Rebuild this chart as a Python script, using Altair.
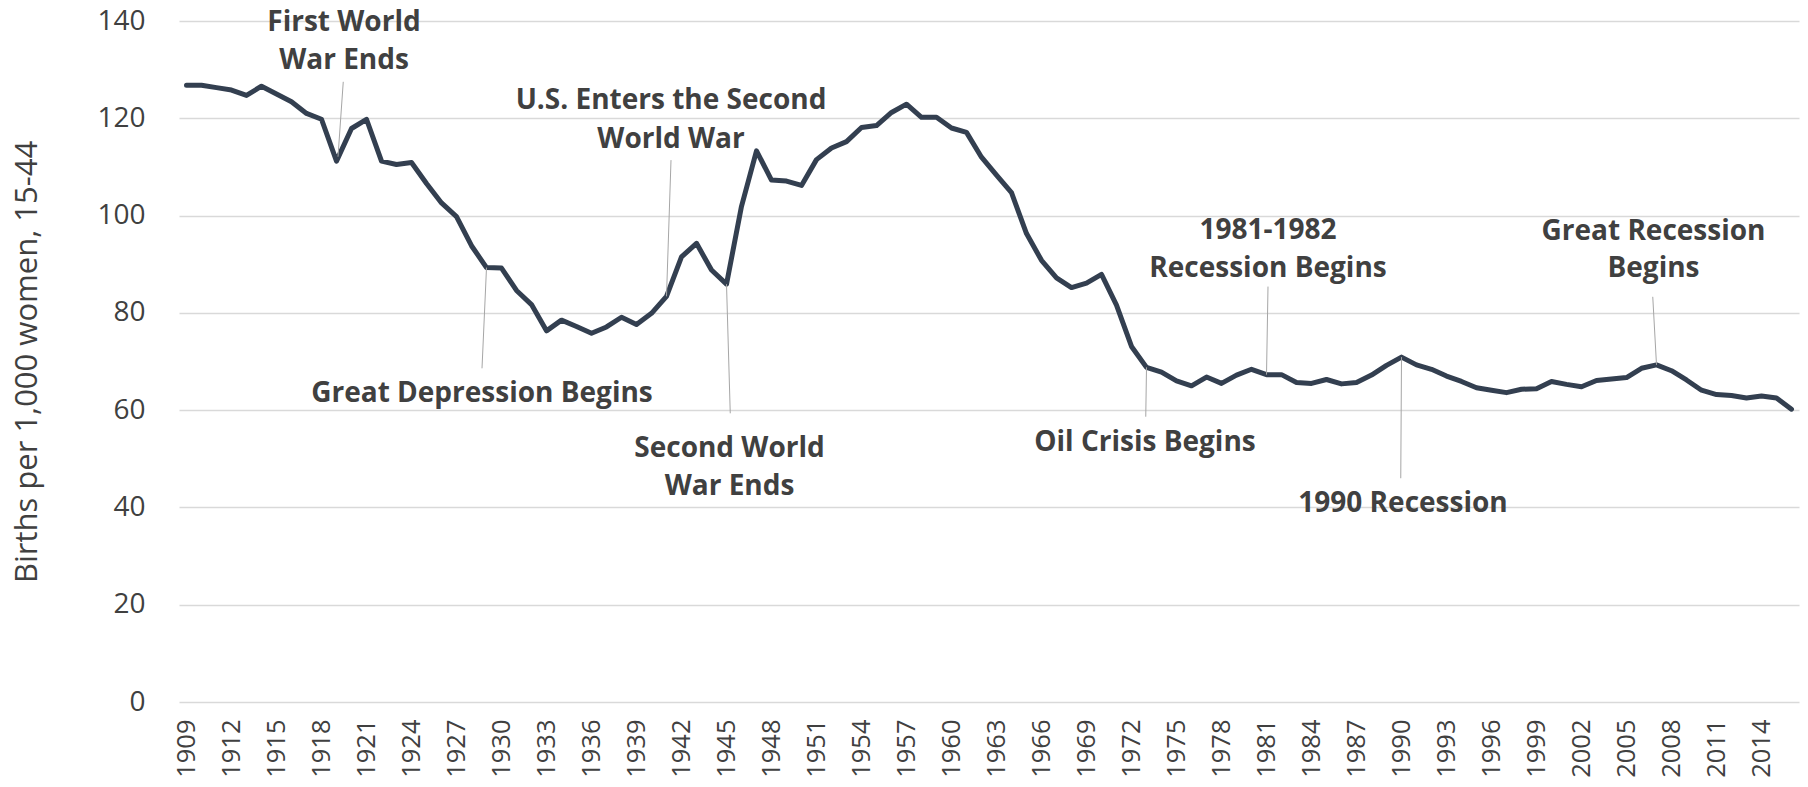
import altair as alt
import pandas as pd

# ---- data ----
years = list(range(1909, 2017))
rates = [126.8, 126.8, 126.3, 125.8, 124.7, 126.6, 125.0, 123.4, 121.0, 119.8,
         111.2, 117.9, 119.8, 111.2, 110.5, 110.9, 106.6, 102.6, 99.8, 93.8,
         89.3, 89.2, 84.6, 81.7, 76.3, 78.5, 77.2, 75.8, 77.1, 79.1,
         77.6, 79.9, 83.4, 91.5, 94.3, 88.8, 85.9, 101.9, 113.3, 107.3,
         107.1, 106.2, 111.5, 113.9, 115.2, 118.1, 118.5, 121.2, 122.9, 120.2,
         120.2, 118.0, 117.1, 112.0, 108.3, 104.7, 96.3, 90.8, 87.2, 85.2,
         86.1, 87.9, 81.6, 73.1, 68.8, 67.8, 66.0, 65.0, 66.8, 65.5,
         67.2, 68.4, 67.3, 67.3, 65.7, 65.5, 66.3, 65.4, 65.7, 67.2,
         69.2, 70.9, 69.3, 68.4, 67.0, 65.9, 64.6, 64.1, 63.6, 64.3,
         64.4, 65.9, 65.3, 64.8, 66.1, 66.4, 66.7, 68.6, 69.3, 68.1,
         66.2, 64.1, 63.2, 63.0, 62.5, 62.9, 62.5, 60.2]

tick_years = list(range(1909, 2015, 3))
y_ticks = [0, 20, 40, 60, 80, 100, 120, 140]

# annotation text lines (position in data units: year, value of baseline)
label_text = ["First World", "War Ends",
              "U.S. Enters the Second", "World War",
              "Great Depression Begins",
              "Second World", "War Ends",
              "Oil Crisis Begins",
              "1981-1982", "Recession Begins",
              "1990 Recession",
              "Great Recession", "Begins"]
label_year = [1919.5, 1919.5,
              1941.3, 1941.3,
              1928.7,
              1945.2, 1945.2,
              1972.9,
              1981.1, 1981.1,
              1990.1,
              2006.8, 2006.8]
label_value = [137.9, 130.2,
               121.85, 113.95,
               61.67,
               50.3, 42.55,
               51.6,
               95.1, 87.4,
               39.1,
               95.0, 87.4]

# leader lines
lead_x1 = [1919.45, 1941.3, 1929.0, 1945.0, 1973.0, 1981.1, 1990.0, 2006.75]
lead_y1 = [127.5, 111.4, 89.3, 85.9, 68.8, 85.4, 70.9, 83.3]
lead_x2 = [1919.1, 1941.0, 1928.7, 1945.25, 1972.95, 1981.0, 1989.95, 2007.0]
lead_y2 = [112.1, 83.4, 68.6, 59.35, 58.65, 67.3, 46.0, 69.3]

series = pd.DataFrame({"year": years, "rate": rates})
labels = pd.DataFrame({"year": label_year, "rate": label_value, "text": label_text})
leaders = pd.DataFrame({"year": lead_x1, "rate": lead_y1, "year2": lead_x2, "rate2": lead_y2})

TEXT = "#404040"
xscale = alt.Scale(domain=[1908.5, 2016.5], nice=False, zero=False)
yscale = alt.Scale(domain=[0, 140], nice=False)

xaxis = alt.Axis(
    values=tick_years, format="d", title=None, grid=False, domain=False,
    ticks=False, tickSize=0, labelAngle=270, labelAlign="right",
    labelBaseline="middle", labelPadding=17, labelFontSize=25.5,
    labelColor=TEXT, labelOverlap=False, labelFont="Open Sans")
yaxis = alt.Axis(
    values=y_ticks, title="Births per 1,000 women, 15-44", grid=True,
    gridColor="#D9D9D9", gridWidth=1.3, domain=False, ticks=False, tickSize=0,
    labelPadding=34, labelFontSize=28, labelColor=TEXT, labelFont="Open Sans",
    titleFontSize=31, titleFontWeight="normal", titleColor=TEXT,
    titleFont="Open Sans", titleAngle=270, titleAlign="center",
    titleBaseline="alphabetic", titleX=-143, titleY=340.5)

line = alt.Chart(series).mark_line(
    color="#333F50", strokeWidth=5, strokeJoin="round", strokeCap="round"
).encode(
    x=alt.X("year:Q", scale=xscale, axis=xaxis),
    y=alt.Y("rate:Q", scale=yscale, axis=yaxis),
)

rules = alt.Chart(leaders).mark_rule(color="#A6A6A6", strokeWidth=1).encode(
    x=alt.X("year:Q", scale=xscale, axis=xaxis),
    y=alt.Y("rate:Q", scale=yscale, axis=yaxis),
    x2="year2:Q",
    y2="rate2:Q",
)

texts = alt.Chart(labels).mark_text(
    font="Open Sans", fontSize=28, fontWeight="bold", color=TEXT,
    align="center", baseline="alphabetic"
).encode(
    x=alt.X("year:Q", scale=xscale, axis=xaxis),
    y=alt.Y("rate:Q", scale=yscale, axis=yaxis),
    text="text:N",
)

chart = alt.layer(line, rules, texts).properties(
    width=1620, height=681,
    autosize=alt.AutoSizeParams(type="none"),
    padding={"left": 171, "top": 13, "right": 1, "bottom": 77},
    background="white",
).configure(font="Open Sans").configure_view(stroke=None)

chart.save("out.html", embed_options={"renderer": "svg", "actions": False})
